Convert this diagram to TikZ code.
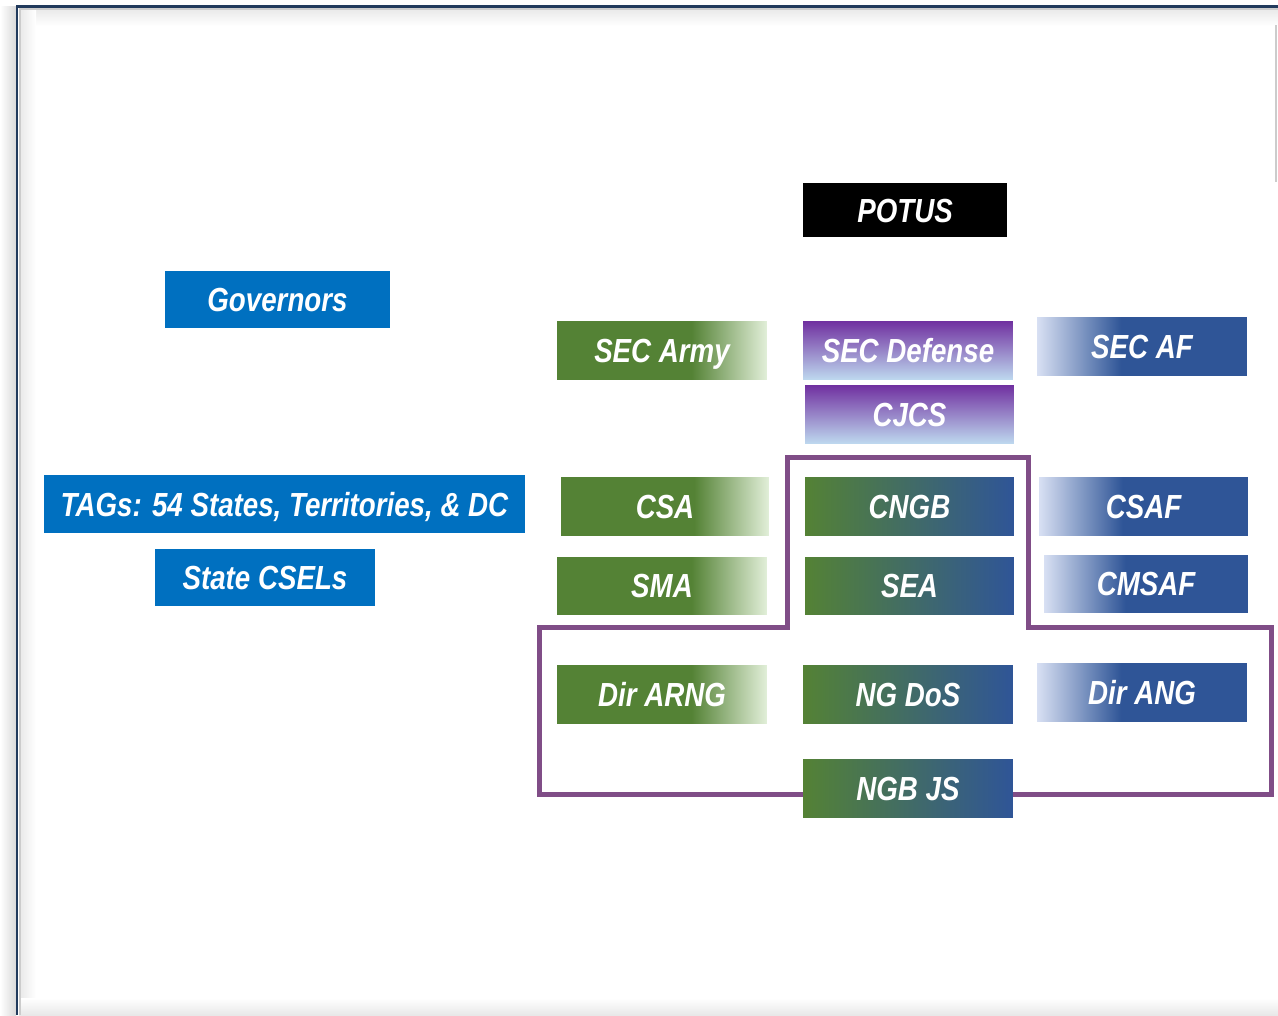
\documentclass[tikz,border=0pt]{standalone}
\usepackage{fontspec}
\newfontfamily\boitefont[FakeStretch=0.83]{Liberation Sans}
\usetikzlibrary{positioning}

\definecolor{vertarmee}{RGB}{84,130,53}
\definecolor{vertclair}{RGB}{226,239,217}
\definecolor{bleuaf}{RGB}{47,85,151}
\definecolor{bleuclair}{RGB}{216,224,243}
\definecolor{bleugouv}{RGB}{0,112,192}
\definecolor{violetdef}{RGB}{112,48,160}
\definecolor{bleuciel}{RGB}{189,215,238}
\definecolor{cadre}{RGB}{33,58,92}
\definecolor{contour}{RGB}{128,77,135}

\pgfdeclarehorizontalshading{armee}{100bp}{color(0bp)=(vertarmee); color(25bp)=(vertarmee);
  color(57bp)=(vertarmee); color(75bp)=(vertclair); color(100bp)=(vertclair)}
\pgfdeclarehorizontalshading{airforce}{100bp}{color(0bp)=(bleuclair); color(25bp)=(bleuclair);
  color(45bp)=(bleuaf); color(75bp)=(bleuaf); color(100bp)=(bleuaf)}

\tikzset{
    boite/.style={rectangle, minimum width=4.2cm, minimum height=1.16cm, inner sep=0pt,
        text height=0.48cm, text depth=0pt,
        text=white, font=\boitefont\fontsize{19}{22}\selectfont\bfseries\itshape},
    boiteArmee/.style={boite, shade, shading=armee},
    boiteAF/.style={boite, shade, shading=airforce},
    boiteNG/.style={boite, left color=vertarmee, right color=bleuaf},
    boiteDef/.style={boite, top color=violetdef, bottom color=bleuciel},
    boiteEtat/.style={boite, fill=bleugouv}
}

\begin{document}
\begin{tikzpicture}[x=0.02cm, y=-0.02cm]

	\useasboundingbox (0,0) rectangle (1278,1015);
	
	% Cadre et ombres
	\shade[left color=white, right color=gray!30] (0,6) rectangle (16,1015);
	\shade[top color=gray!18, bottom color=white] (19,8) rectangle (1278,26);
	\shade[left color=gray!18, right color=white] (19,8) rectangle (36,1015);
	\shade[top color=white, bottom color=gray!18] (19,998) rectangle (1278,1015);
	\draw[gray!40, line width=0.03cm] (1276,25) -- (1276,182);
	\draw[gray!40, line width=0.03cm] (20,1015) -- (20,9) -- (1278,9);
	\draw[cadre, line width=0.06cm] (17,1015) -- (17,6) -- (1278,6);
	
	% Contour de la Garde nationale
	\draw[contour, line width=0.1cm]
		(787,457) -- (1028,457) -- (1028,627) -- (1271,627) -- (1271,794)
		-- (539,794) -- (539,627) -- (787,627) -- cycle;
	
	% Colonne des Etats
	\node[boite, fill=black, minimum width=4.08cm, minimum height=1.08cm] (potus) at (905,210) {POTUS};
	\node[boiteEtat, minimum width=4.5cm, minimum height=1.14cm] (gouv) at (277.5,299.5) {Governors};
	\node[boiteEtat, minimum width=9.62cm] (tags) at (284.5,504) {TAGs: 54 States, Territories, \& DC};
	\node[boiteEtat, minimum width=4.4cm, minimum height=1.14cm] (csel) at (265,577.5) {State CSELs};
	
	% Armee
	\node[boiteArmee] (secarmy) at (662,350) {SEC Army};
	\node[boiteArmee, minimum width=4.16cm] (csa) at (665,506) {CSA};
	\node[boiteArmee, minimum height=1.14cm] (sma) at (662,585.5) {SMA};
	\node[boiteArmee] (dirarng) at (662,694) {Dir ARNG};
	
	% Defense
	\node[boiteDef] (secdef) at (908,350) {SEC Defense};
	\node[boiteDef, minimum width=4.18cm] (cjcs) at (909.5,414) {CJCS};
	
	% Garde nationale
	\node[boiteNG, minimum width=4.18cm] (cngb) at (909.5,506) {CNGB};
	\node[boiteNG, minimum width=4.18cm, minimum height=1.14cm] (sea) at (909.5,585.5) {SEA};
	\node[boiteNG] (ngdos) at (908,694) {NG DoS};
	\node[boiteNG] (ngbjs) at (908,788) {NGB JS};
	
	% Air Force
	\node[boiteAF] (secaf) at (1142,346) {SEC AF};
	\node[boiteAF, minimum width=4.18cm] (csaf) at (1143.5,506) {CSAF};
	\node[boiteAF, minimum width=4.08cm, minimum height=1.14cm] (cmsaf) at (1146,583.5) {CMSAF};
	\node[boiteAF] (dirang) at (1142,692) {Dir ANG};

\end{tikzpicture}
\end{document}
